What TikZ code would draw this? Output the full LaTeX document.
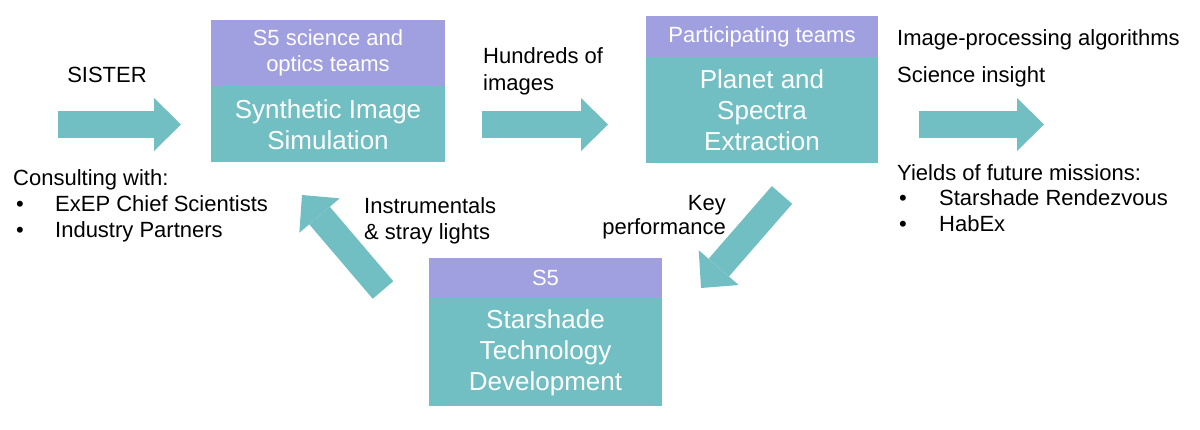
\documentclass[tikz,border=0pt]{standalone}
\usepackage{fontspec}
\setmainfont{Liberation Sans}
\usetikzlibrary{positioning,arrows.meta}
\definecolor{boxteal}{HTML}{71BFC3}
\definecolor{boxpurple}{HTML}{A09FDF}

\begin{document}
\begin{tikzpicture}[x=1pt,y=-1pt,
  teamhead/.style={fill=boxpurple,text=white,font=\fontsize{22}{26.5}\selectfont,align=center,inner sep=0pt},
  taskbox/.style={fill=boxteal,text=white,font=\fontsize{26}{31}\selectfont,align=center,inner sep=0pt},
  lab/.style={font=\fontsize{22}{26.5}\selectfont,inner sep=0pt},
  fat/.style={boxteal,line width=27pt,-{Triangle[length=27pt,width=53pt,line width=0pt]}}]
\useasboundingbox (0,0) rectangle (1200,430);
% the three stages
\node[teamhead,minimum width=234,minimum height=66] (simhead) at (328,53) {S5 science and\\optics teams};
\node[taskbox,minimum width=234,minimum height=76,below=0pt of simhead] (sim) {Synthetic Image\\Simulation};
\node[teamhead,minimum width=232,minimum height=41] (exthead) at (762,36.5) {Participating teams};
\node[taskbox,minimum width=232,minimum height=106,below=0pt of exthead] (ext) {Planet and\\Spectra\\Extraction};
\node[teamhead,minimum width=233,minimum height=40] (techhead) at (545.5,278) {S5};
\node[taskbox,minimum width=233,minimum height=108,below=0pt of techhead] (tech) {Starshade\\Technology\\Development};
% block arrows
\coordinate (a1s) at (58,124.5);  \coordinate (a1e) at (181,124.5);
\coordinate (a2s) at (482,124.5); \coordinate (a2e) at (608,124.5);
\coordinate (a3s) at (919,124.5); \coordinate (a3e) at (1044,124.5);
\coordinate (a4s) at (383,290);   \coordinate (a4e) at (302,195);
\coordinate (a5s) at (782,195);   \coordinate (a5e) at (701,288);
\foreach \s/\e in {a1s/a1e,a2s/a2e,a3s/a3e,a4s/a4e,a5s/a5e}
  \draw[fat] (\s) -- (\e);
% labels
\node[lab,anchor=base] (sister) at (107,83) {SISTER};
\node[lab,anchor=north west,align=left,font=\fontsize{22}{27}\selectfont] (hundreds) at (483,47) {Hundreds of\\images};
\node[lab,anchor=north west,align=left,font=\fontsize{22}{26}\selectfont] (consult) at (13,169)
  {Consulting with:\\\hspace*{3pt}\makebox[39pt][l]{\textbullet}ExEP Chief Scientists\\\hspace*{3pt}\makebox[39pt][l]{\textbullet}Industry Partners};
\node[lab,anchor=north west,align=left,font=\fontsize{22}{27}\selectfont] (algos) at (897,29)
  {Image-processing algorithms\\[10pt]Science insight};
\node[lab,anchor=north west,align=left,font=\fontsize{22}{25.5}\selectfont] (yields) at (897,164)
  {Yields of future missions:\\\hspace*{2pt}\makebox[40pt][l]{\textbullet}Starshade Rendezvous\\\hspace*{2pt}\makebox[40pt][l]{\textbullet}HabEx};
\node[lab,anchor=north west,align=left,font=\fontsize{22}{26}\selectfont] (instr) at (364,197) {Instrumentals\\\& stray lights};
\node[lab,anchor=north east,align=right,font=\fontsize{22}{24}\selectfont] (keyperf) at (726,195) {Key\\performance};
\end{tikzpicture}
\end{document}
